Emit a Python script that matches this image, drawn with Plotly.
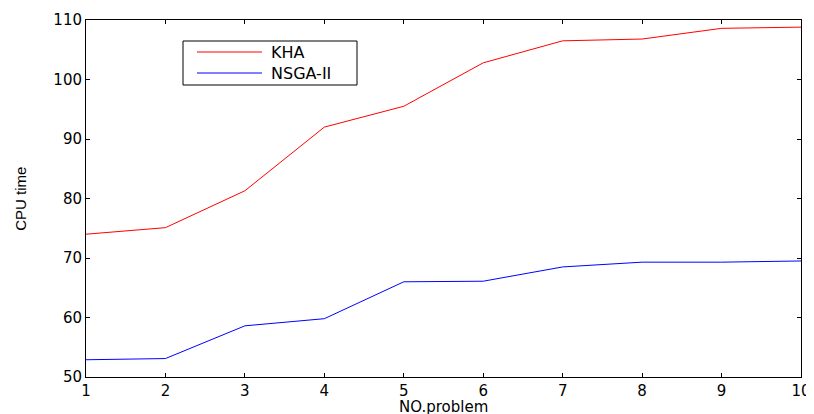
import plotly.graph_objects as go

problems = [1, 2, 3, 4, 5, 6, 7, 8, 9, 10]
kha = [74.0, 75.1, 81.3, 92.0, 95.5, 102.8, 106.5, 106.8, 108.6, 108.8]
nsga = [52.9, 53.1, 58.6, 59.8, 66.0, 66.1, 68.5, 69.3, 69.3, 69.5]
y_ticks = [50, 60, 70, 80, 90, 100, 110]
series_names = ["KHA", "NSGA-II"]
series_colors = ["#ff0000", "#0000ff"]

FONT = "DejaVu Sans, Liberation Sans, Arial"

fig = go.Figure()
for name, vals, col in zip(series_names, [kha, nsga], series_colors):
    fig.add_trace(go.Scatter(x=problems, y=vals, mode="lines", name=name,
                             line=dict(color=col, width=1), showlegend=False))

axis_common = dict(showline=True, linecolor="black", linewidth=1, mirror="allticks",
                   ticks="inside", ticklen=4, tickcolor="black", showgrid=False,
                   zeroline=False, automargin=False,
                   tickfont=dict(family=FONT, size=15, color="black"))

# page body has an 8px margin, so the figure is 8px smaller and margins shifted
fig.update_layout(
    width=806, height=406,
    margin=dict(l=78, r=13, t=12, b=37),
    paper_bgcolor="white", plot_bgcolor="white",
    font=dict(family=FONT, color="black"),
    xaxis=dict(range=[1, 10], tickvals=problems, **axis_common),
    yaxis=dict(range=[50, 110], tickvals=y_ticks, **axis_common),
    showlegend=False,
)

# axis titles
fig.add_annotation(text="CPU time", xref="paper", yref="paper", x=-0.092, y=0.5,
                   xanchor="center", yanchor="middle", textangle=-90, showarrow=False,
                   font=dict(family="Liberation Sans, Arial", size=15, color="black"))
fig.add_annotation(text="NO.problem", xref="paper", yref="paper", x=0.5, y=-0.084,
                   xanchor="center", yanchor="middle", showarrow=False,
                   font=dict(family=FONT, size=15, color="black"))

# manual legend box (paper coordinates)
W, H = 715.0, 357.0
def px(xp):
    return (xp - 86) / W
def py(yp):
    return (377 - yp) / H

fig.add_shape(type="rect", xref="paper", yref="paper", x0=px(183), x1=px(357), y0=py(85), y1=py(41),
              line=dict(color="black", width=1), fillcolor="white", layer="above")
for i, (name, col) in enumerate(zip(series_names, series_colors)):
    yy = 52 + i * 21
    fig.add_shape(type="line", xref="paper", yref="paper", x0=px(197), x1=px(262), y0=py(yy), y1=py(yy),
                  line=dict(color=col, width=1), layer="above")
    fig.add_annotation(text=name, xref="paper", yref="paper", x=px(269), y=py(yy),
                       xanchor="left", yanchor="middle", showarrow=False,
                       font=dict(family=FONT, size=16, color="black"))

fig.write_html("out.html")
